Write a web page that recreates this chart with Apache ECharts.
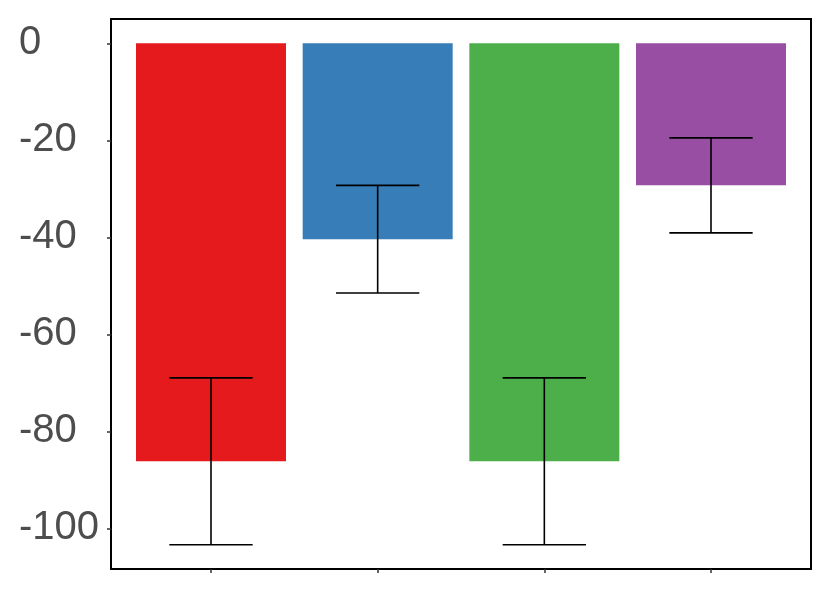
<!DOCTYPE html>
<html>
<head>
<meta charset="utf-8">
<script src="https://cdn.jsdelivr.net/npm/echarts@6/dist/echarts.min.js"></script>
<style>
  html, body { margin: 0; padding: 0; background: #fff; }
  #chart { width: 830px; height: 593px; }
</style>
</head>
<body>
<div id="chart"></div>
<script>
// bar positions on the x scale (ggplot-like discrete positions)
const positions = [1, 2, 3, 4];
const means = [-86.2, -40.4, -86.2, -29.3];
const errors = [17.2, 11.1, 17.2, 9.8];
const colors = ['#E41A1C', '#377EB8', '#4DAF4A', '#984EA3'];
const yTicks = [-100, -80, -60, -40, -20, 0];

const chart = echarts.init(document.getElementById('chart'));

const barData = positions.map((p, i) => ({
  value: [p, means[i]],
  itemStyle: { color: colors[i] }
}));
const errData = positions.map((p, i) => [p, means[i] - errors[i], means[i] + errors[i]]);

const option = {
  animation: false,
  backgroundColor: '#fff',
  grid: {
    left: 111, right: 19, top: 19, bottom: 24,
    show: true, borderColor: '#000', borderWidth: 2, backgroundColor: '#fff'
  },
  xAxis: {
    type: 'value',
    min: 0.4,
    max: 4.6,
    splitLine: { show: false },
    axisLine: { show: true, onZero: false, lineStyle: { color: '#000', width: 2 } },
    axisTick: { show: true, length: 4, customValues: positions, lineStyle: { color: '#333', width: 1.5 } },
    axisLabel: { show: false }
  },
  yAxis: {
    type: 'value',
    min: -108.4,
    max: 5,
    splitLine: { show: false },
    axisLine: { show: true, onZero: false, lineStyle: { color: '#000', width: 2 } },
    axisTick: { show: true, length: 4, customValues: yTicks, lineStyle: { color: '#333', width: 1.5 } },
    axisLabel: {
      customValues: yTicks,
      color: '#4D4D4D',
      fontSize: 40,
      fontFamily: 'Liberation Sans, Arial, sans-serif',
      align: 'left',
      margin: 92
    }
  },
  series: [
    {
      type: 'bar',
      data: barData,
      barWidth: 150
    },
    {
      type: 'custom',
      data: errData,
      z: 10,
      renderItem: function (params, api) {
        const x = api.value(0);
        const lo = api.coord([x, api.value(1)]);
        const hi = api.coord([x, api.value(2)]);
        const half = api.size([0.25, 0])[0];
        const style = { stroke: '#000', lineWidth: 1.6 };
        return {
          type: 'group',
          children: [
            { type: 'line', shape: { x1: lo[0], y1: lo[1], x2: hi[0], y2: hi[1] }, style: style },
            { type: 'line', shape: { x1: lo[0] - half, y1: lo[1], x2: lo[0] + half, y2: lo[1] }, style: style },
            { type: 'line', shape: { x1: hi[0] - half, y1: hi[1], x2: hi[0] + half, y2: hi[1] }, style: style }
          ]
        };
      }
    }
  ]
};

chart.setOption(option);
</script>
</body>
</html>
